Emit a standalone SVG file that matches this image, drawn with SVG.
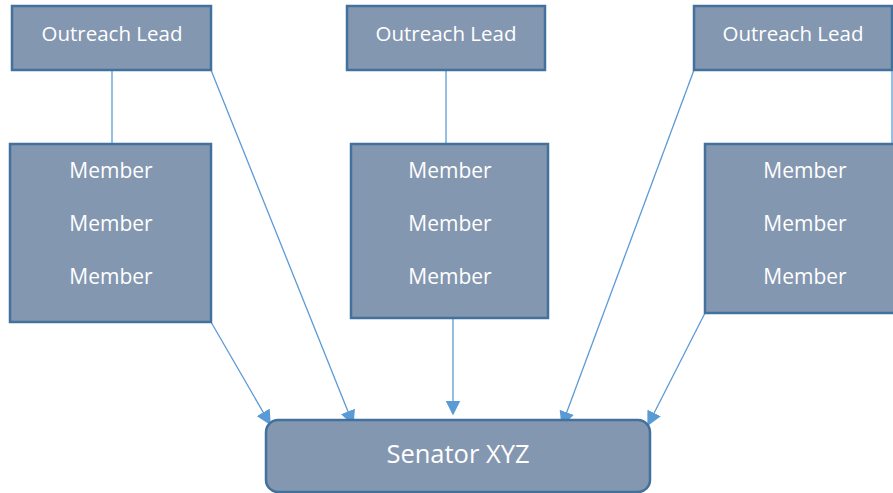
<svg xmlns="http://www.w3.org/2000/svg" width="893" height="493" viewBox="0 0 893 493">
<defs>
<style>
.box{fill:#8497B0;stroke:#41719C;stroke-width:2.5}
.t{fill:#fff;font-family:"Open Sans","Noto Sans",sans-serif;font-size:20.5px;text-anchor:middle}
.m{font-size:21px}
.big{font-size:25.5px}
.c{stroke:#5B9BD5;stroke-width:1.3;fill:none}
</style>
<marker id="ahb" viewBox="0 0 10 10" refX="9" refY="5" markerWidth="15" markerHeight="15" markerUnits="userSpaceOnUse" orient="auto">
<path d="M0,0 L10,5 L0,10 z" fill="#5B9BD5"/>
</marker>
</defs>
<rect width="893" height="493" fill="#fff"/>
<g id="connectors">
<line class="c" x1="112" y1="70" x2="112" y2="144"/>
<line class="c" x1="446" y1="70" x2="446" y2="144"/>
<line class="c" x1="892" y1="70" x2="892" y2="144"/>
<line class="c" x1="211" y1="70" x2="353" y2="424" marker-end="url(#ahb)"/>
<line class="c" x1="211" y1="322" x2="270" y2="424" marker-end="url(#ahb)"/>
<line class="c" x1="453" y1="318" x2="453" y2="414" marker-end="url(#ahb)"/>
<line class="c" x1="694" y1="70" x2="562" y2="425" marker-end="url(#ahb)"/>
<line class="c" x1="705" y1="313" x2="648" y2="425" marker-end="url(#ahb)"/>
</g>
<g id="lead1"><rect class="box" x="12" y="6" width="199" height="64"/><text class="t" x="112" y="41">Outreach Lead</text></g>
<g id="lead2"><rect class="box" x="347" y="6" width="198" height="64"/><text class="t" x="446" y="41">Outreach Lead</text></g>
<g id="lead3"><rect class="box" x="694" y="6" width="198" height="64"/><text class="t" x="793" y="41">Outreach Lead</text></g>
<g id="members1"><rect class="box" x="10" y="144" width="201" height="178"/>
<text class="t m" x="111" y="178">Member</text><text class="t m" x="111" y="231">Member</text><text class="t m" x="111" y="284">Member</text></g>
<g id="members2"><rect class="box" x="351" y="144" width="197" height="174"/>
<text class="t m" x="450" y="178">Member</text><text class="t m" x="450" y="231">Member</text><text class="t m" x="450" y="284">Member</text></g>
<g id="members3"><rect class="box" x="705" y="144" width="200" height="169"/>
<text class="t m" x="805" y="178">Member</text><text class="t m" x="805" y="231">Member</text><text class="t m" x="805" y="284">Member</text></g>
<g id="senator"><rect class="box" x="266" y="420" width="384" height="72" rx="12"/><text class="t big" x="458" y="463">Senator XYZ</text></g>
</svg>
